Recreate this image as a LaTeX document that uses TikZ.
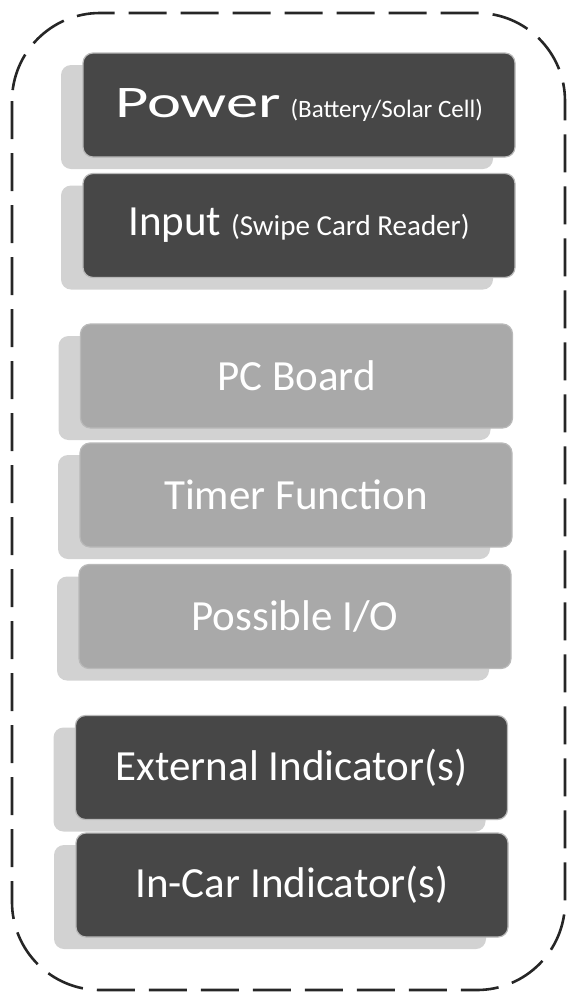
\documentclass[tikz,border=0pt]{standalone}
\usepackage{fontspec}
\setmainfont{Carlito}
\usepackage{xcolor}
\usepackage{tikz}
\usetikzlibrary{shadows}
\definecolor{darkfill}{HTML}{474747}
\definecolor{lightfill}{HTML}{A9A9A9}
\tikzset{
    block/.style = {align=center, inner sep=0pt, text centered, rectangle, rounded corners=10pt,
        minimum width=432pt, minimum height=104pt, text=white, draw=gray!55, line width=1.2pt,
        font=\fontsize{43}{46}\selectfont,
        drop shadow={shadow xshift=-22pt, shadow yshift=-12pt, fill=black!35, opacity=0.5}},
    dark_box/.style = {block, fill=darkfill},
    light_box/.style = {block, fill=lightfill},
    frame/.style = {draw=black!85, line width=2.6pt, dash pattern=on 38pt off 14pt, rounded corners=88pt}
}

\begin{document}
\begin{tikzpicture}[x=1pt, y=-1pt]
    \useasboundingbox (0,0) rectangle (571,997);

    \draw [frame] (12,13) rectangle (565,990);

    \node [dark_box]  (power) at (299,105)   {\scalebox{1.5}[1.05]{Power} {\fontsize{25}{28}\selectfont(Battery/Solar Cell)}};
    \node [dark_box]  (input) at (299,225.5) {Input {\fontsize{29}{32}\selectfont(Swipe Card Reader)}};
    \node [light_box] (pcb)   at (296.5,376) {PC Board};
    \node [light_box] (timer) at (296,495)   {Timer Function};
    \node [light_box] (io)    at (295,616.5) {Possible I/O};
    \node [dark_box]  (ext)   at (291.5,767.5) {External Indicator(s)};
    \node [dark_box]  (incar) at (292,885)   {In-Car Indicator(s)};
\end{tikzpicture}
\end{document}
